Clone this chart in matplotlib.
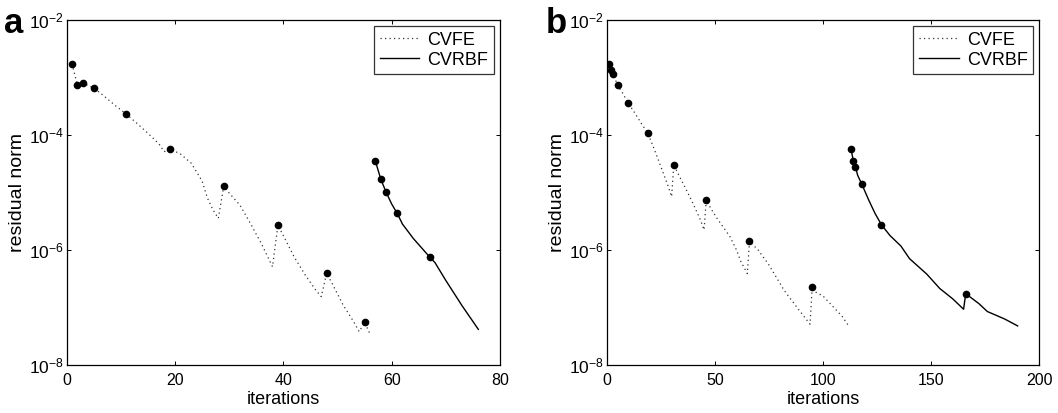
import numpy as np
import matplotlib
matplotlib.use("Agg")
import matplotlib.pyplot as plt

plt.rcParams['font.family'] = ['Liberation Sans', 'DejaVu Sans']
plt.rcParams['mathtext.fontset'] = 'custom'
plt.rcParams['mathtext.rm'] = 'Liberation Sans'
plt.rcParams['mathtext.it'] = 'Liberation Sans'

### Data (values are log10 of the residual norm) ###
# panel a
a_fe_iter = [1, 2, 3, 5, 7, 9, 11, 13, 15, 17, 18, 19, 21, 23, 25, 26, 27, 28,
             29, 30, 32, 34, 36, 38, 39, 40, 42, 44, 46, 47, 48, 49, 51, 53, 54, 55, 56]
a_fe_log = [-2.765, -3.136, -3.10, -3.18, -3.33, -3.49, -3.635, -3.80, -3.97, -4.15, -4.29, -4.238,
            -4.33, -4.49, -4.80, -5.10, -5.30, -5.45,
            -4.887, -5.01, -5.22, -5.55, -5.90, -6.29,
            -5.57, -5.75, -6.12, -6.43, -6.70, -6.81,
            -6.405, -6.58, -6.95, -7.25, -7.42, -7.257, -7.46]
a_fe_marks = [1, 2, 3, 5, 11, 19, 29, 39, 48, 55]

a_rbf_iter = [57, 58, 59, 60, 61, 62, 64, 67, 68, 70, 73, 76]
a_rbf_log = [-4.457, -4.77, -5.0, -5.2, -5.36, -5.55, -5.8, -6.12, -6.22, -6.53, -6.97, -7.38]
a_rbf_marks = [57, 58, 59, 61, 67]

# panel b
b_fe_iter = [1, 2, 3, 5, 7, 10, 13, 16, 19, 22, 25, 28, 30,
             31, 34, 37, 40, 43, 45,
             46, 48, 51, 57, 60, 62, 65,
             66, 70, 75, 82, 88, 94,
             95, 96, 100, 105, 109, 112]
b_fe_log = [-2.765, -2.87, -2.94, -3.136, -3.25, -3.45, -3.62, -3.80, -3.97, -4.25, -4.55, -4.85, -5.07,
            -4.52, -4.75, -4.97, -5.20, -5.45, -5.65,
            -5.13, -5.27, -5.45, -5.77, -6.0, -6.2, -6.41,
            -5.85, -6.0, -6.26, -6.7, -7.0, -7.29,
            -6.64, -6.72, -6.80, -7.0, -7.16, -7.33]
b_fe_marks = [1, 2, 3, 5, 10, 19, 31, 46, 66, 95]

b_rbf_iter = [113, 114, 115, 116, 118, 121, 124, 127, 131, 136, 140, 148, 154, 160, 165,
              166, 172, 176, 184, 190]
b_rbf_log = [-4.25, -4.45, -4.55, -4.70, -4.86, -5.12, -5.36, -5.56, -5.75, -5.93, -6.15, -6.42,
             -6.67, -6.85, -7.03, -6.76, -6.93, -7.07, -7.20, -7.32]
b_rbf_marks = [113, 114, 115, 118, 127, 166]

legend_labels = ['CVFE', 'CVRBF']
y_ticks = [1e-8, 1e-6, 1e-4, 1e-2]
y_ticklabels = [r'$10^{-8}$', r'$10^{-6}$', r'$10^{-4}$', r'$10^{-2}$']


def draw_panel(ax, fe_it, fe_lg, fe_mk, rbf_it, rbf_lg, rbf_mk, xmax, xticks):
    fe_y = np.power(10.0, fe_lg)
    rbf_y = np.power(10.0, rbf_lg)
    # curves
    ax.plot(fe_it, fe_y, color='#333333', lw=0.9, ls=(0, (1, 2.6)), label=legend_labels[0])
    ax.plot(rbf_it, rbf_y, color='black', lw=1.0, ls='-', label=legend_labels[1])
    # markers on top
    fi = [fe_it.index(m) for m in fe_mk]
    ri = [rbf_it.index(m) for m in rbf_mk]
    ax.plot(np.array(fe_it)[fi], fe_y[fi], 'o', color='black', ms=4.5, ls='none')
    ax.plot(np.array(rbf_it)[ri], rbf_y[ri], 'o', color='black', ms=4.5, ls='none')

    ax.set_yscale('log')
    ax.set_ylim(1e-8, 1e-2)
    ax.set_xlim(0, xmax)
    ax.set_xticks(xticks)
    ax.set_yticks(y_ticks)
    ax.set_yticklabels(y_ticklabels)
    ax.minorticks_off()
    ax.tick_params(direction='in', length=3, width=0.7, top=True, right=True)
    ax.tick_params(axis='x', labelsize=11.5, pad=6)
    ax.tick_params(axis='y', labelsize=12.5, pad=2)
    for s in ax.spines.values():
        s.set_linewidth(0.9)
    ax.set_xlabel('iterations', fontsize=13, labelpad=2)
    ax.set_ylabel('residual norm', fontsize=14, labelpad=2)
    leg = ax.legend(loc='upper right', fontsize=13, frameon=True, fancybox=False,
                    edgecolor='black', borderaxespad=0.35, handlelength=2.2,
                    handletextpad=0.45, borderpad=0.3, labelspacing=0.17)
    leg.get_frame().set_linewidth(0.9)


fig = plt.figure(figsize=(10.58, 4.13), dpi=100)
ax1 = fig.add_axes([0.0630, 0.1162, 0.4096, 0.8354])
ax2 = fig.add_axes([0.5735, 0.1162, 0.4088, 0.8354])

draw_panel(ax1, a_fe_iter, a_fe_log, a_fe_marks, a_rbf_iter, a_rbf_log, a_rbf_marks,
           80, [0, 20, 40, 60, 80])
draw_panel(ax2, b_fe_iter, b_fe_log, b_fe_marks, b_rbf_iter, b_rbf_log, b_rbf_marks,
           200, [0, 50, 100, 150, 200])

fig.text(0.004, 0.92, 'a', fontsize=25, fontweight='bold', va='baseline')
fig.text(0.516, 0.92, 'b', fontsize=25, fontweight='bold', va='baseline')

fig.savefig('out.png', dpi=100)
